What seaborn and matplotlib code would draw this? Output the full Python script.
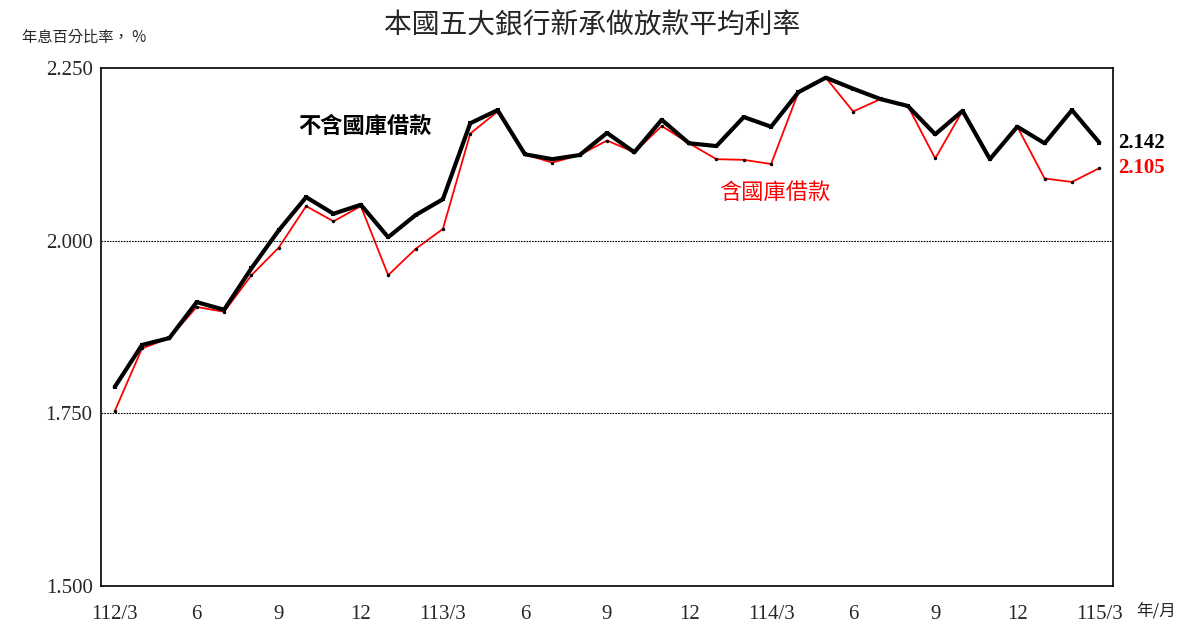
import matplotlib
matplotlib.use("Agg")
import matplotlib.pyplot as plt
import seaborn as sns
import pandas as pd
import numpy as np

excl = [1.788,1.849,1.859,1.911,1.900,1.960,2.015,2.063,2.039,2.052,2.005,2.037,2.060,
        2.170,2.189,2.125,2.118,2.124,2.156,2.128,2.175,2.141,2.137,2.179,2.165,2.215,
        2.236,2.220,2.205,2.195,2.154,2.188,2.118,2.165,2.141,2.189,2.142]
incl = [1.753,1.844,1.859,1.904,1.897,1.950,1.990,2.050,2.028,2.050,1.950,1.988,2.017,
        2.155,2.187,2.125,2.113,2.124,2.145,2.128,2.166,2.141,2.118,2.117,2.111,2.215,
        2.236,2.187,2.205,2.195,2.119,2.188,2.118,2.165,2.090,2.085,2.105]
tick_labels = ["112/3","6","9","12","113/3","6","9","12","114/3","6","9","12","115/3"]
yticks = [1.5, 1.75, 2.0, 2.25]

sns.set_style("white")
plt.rcParams['font.family'] = ['Liberation Serif', 'Noto Sans CJK TC']
cjk = ['Noto Sans CJK TC']

idx = np.arange(len(excl))
df = pd.DataFrame({"i": idx, "excl": excl, "incl": incl})

fig = plt.figure(figsize=(11.84, 6.32), dpi=100)
ax = fig.add_axes([101/1184, 1-586/632, (1113-101)/1184, (586-68)/632])
sns.lineplot(data=df, x="i", y="incl", ax=ax, color="red", lw=1.3, marker="o", ms=2.5, mec="black", mfc="black", mew=0)
sns.lineplot(data=df, x="i", y="excl", ax=ax, color="black", lw=3, marker="s", ms=3.5, mec="black", mfc="black", mew=0)
ax.set_xlim(-0.5, len(excl)-0.5)
ax.set_ylim(1.5, 2.25)
ax.set_yticks(yticks)
ax.set_yticklabels([f"{v:.3f}" for v in yticks], fontsize=15)
ax.set_xticks(idx[::3])
ax.set_xticklabels(tick_labels, fontsize=15)
ax.set_xlabel(""); ax.set_ylabel("")
for v in [1.75, 2.0]:
    ax.axhline(v, color="black", lw=0.8, ls=(0, (1.5, 1)))
for s in ax.spines.values():
    s.set_color("black"); s.set_linewidth(1.2)
ax.tick_params(axis="y", length=0, pad=6)
ax.tick_params(axis="x", length=0, pad=14)

ax.text(len(excl)-0.3, excl[-1], f"{excl[-1]:.3f}", fontsize=15, fontweight="bold", va="center", color="black")
ax.text(len(excl)-0.3, incl[-1], f"{incl[-1]:.3f}", fontsize=15, fontweight="bold", va="center", color="red")
ax.text(6.7, 2.166, "不含國庫借款", family=cjk, fontsize=16, color="black", fontweight="bold", va="center")
ax.text(22.1, 2.07, "含國庫借款", family=cjk, fontsize=16, color="red", va="center")
fig.text(0.5, 1-25/632, "本國五大銀行新承做放款平均利率", family=cjk, fontsize=20, fontweight="medium", ha="center", va="center")
fig.text(22/1184, 1-37/632, "年息百分比率， %", family=cjk, fontsize=11, va="center")
fig.text(1136/1184, 1-611/632, "年/月", family=cjk, fontsize=12, va="center")
fig.savefig("out.png", dpi=100)
